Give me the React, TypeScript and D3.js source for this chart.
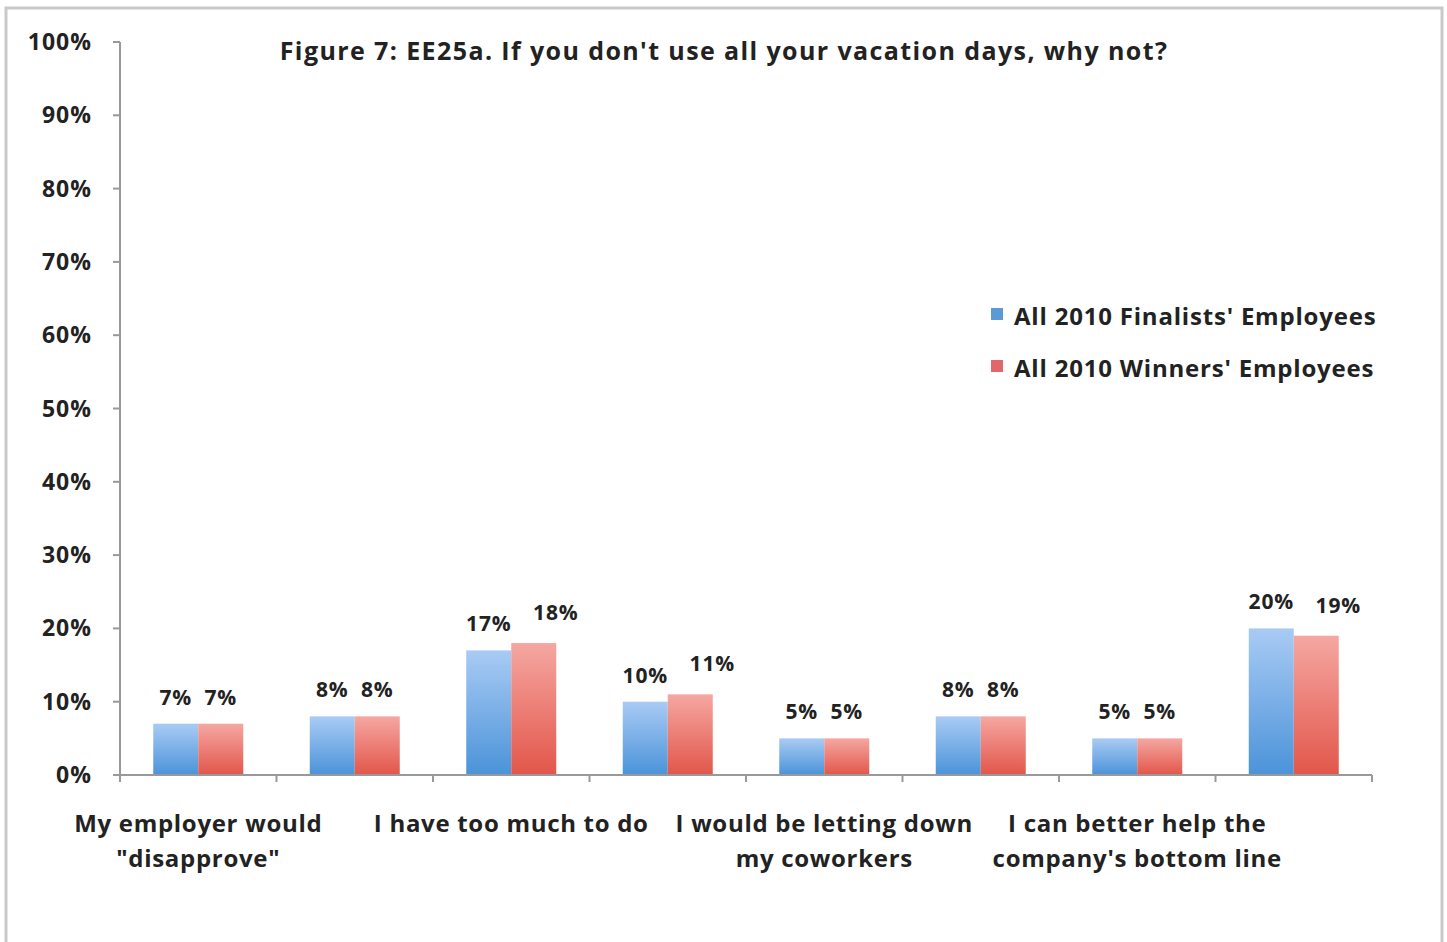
import React from "react";
import * as d3 from "d3";

const title = "Figure 7: EE25a. If you don't use all your vacation days, why not?";
const categoryLabels: string[][] = [
  ["My employer would", "\"disapprove\""],
  [],
  ["I have too much to do"],
  [],
  ["I would be letting down", "my coworkers"],
  [],
  ["I can better help the", "company's bottom line"],
  [],
];
const seriesNames = ["All 2010 Finalists' Employees", "All 2010 Winners' Employees"];
const finalists = [7, 8, 17, 10, 5, 8, 5, 20];
const winners = [7, 8, 18, 11, 5, 8, 5, 19];
const yTicks = [0, 10, 20, 30, 40, 50, 60, 70, 80, 90, 100];

const W = 1447;
const H = 942;
const FONT = "'Open Sans', Lato, sans-serif";

export default function App() {
  const x0 = 120, x1 = 1372, yTop = 42, yBot = 775;
  const idx = categoryLabels.map((_, i) => String(i));
  const x = d3.scaleBand<string>().domain(idx).range([x0, x1]).paddingInner(0).paddingOuter(0);
  const y = d3.scaleLinear().domain([0, 100]).range([yBot, yTop]);
  const barW = 45;
  const series = [
    { name: seriesNames[0], values: finalists, grad: "gBlue", sw: "#5b9bd5" },
    { name: seriesNames[1], values: winners, grad: "gRed", sw: "#e0686a" },
  ];
  const boundaries = d3.range(idx.length + 1).map((i) => x0 + i * x.bandwidth());

  return (
    <svg width={W} height={H} style={{ position: "absolute", left: 0, top: 0, background: "#fff" }} fontFamily={FONT}>
      <defs>
        <linearGradient id="gBlue" x1="0" y1="0" x2="0" y2="1">
          <stop offset="0" stopColor="#a9cbf4" />
          <stop offset="1" stopColor="#4b93d9" />
        </linearGradient>
        <linearGradient id="gRed" x1="0" y1="0" x2="0" y2="1">
          <stop offset="0" stopColor="#f5a7a2" />
          <stop offset="1" stopColor="#e2564a" />
        </linearGradient>
      </defs>
      <rect x={6} y={8} width={1436} height={940} fill="#fff" stroke="#c9c9c9" strokeWidth={3} />
      <text x={724} y={60} textAnchor="middle" fontSize={25} fontWeight="bold" fill="#222" letterSpacing={1.4}>{title}</text>

      {/* y axis */}
      <line x1={x0} x2={x0} y1={yTop} y2={yBot} stroke="#999" strokeWidth={2} />
      {yTicks.map((t) => (
        <g key={t}>
          <line x1={x0 - 7} x2={x0} y1={y(t)} y2={y(t)} stroke="#999" strokeWidth={2} />
          <text x={92} y={y(t) + 8} textAnchor="end" fontSize={23} fontWeight="bold" fill="#222" letterSpacing={1}>{t}%</text>
        </g>
      ))}

      {/* bars */}
      {series.map((s, si) =>
        s.values.map((v, i) => {
          const cx = x(String(i))! + x.bandwidth() / 2;
          const bx = cx - barW + si * barW;
          // avoid overlap of the two labels when heights differ (like the original)
          const differs = finalists[i] !== winners[i];
          const dx = si === 1 && differs ? 22 : 0;
          const dy = si === 1 && differs ? -4 : 0;
          return (
            <g key={`${si}-${i}`}>
              <rect x={bx} y={y(v)} width={barW} height={yBot - y(v)} fill={`url(#${s.grad})`} />
              <text x={bx + barW / 2 + dx} y={y(v) - 19 + dy} textAnchor="middle" fontSize={21} fontWeight="bold" fill="#222" letterSpacing={0.8}>{v}%</text>
            </g>
          );
        })
      )}

      {/* x axis */}
      <line x1={x0 - 7} x2={x1} y1={yBot} y2={yBot} stroke="#999" strokeWidth={2} />
      {boundaries.map((b, i) => (
        <line key={i} x1={b} x2={b} y1={yBot} y2={yBot + 7} stroke="#999" strokeWidth={2} />
      ))}
      {categoryLabels.map((lines, i) =>
        lines.map((ln, j) => (
          <text key={`${i}-${j}`} x={x(String(i))! + x.bandwidth() / 2} y={832 + j * 35} textAnchor="middle" fontSize={24} fontWeight="bold" fill="#222" letterSpacing={0.7}>{ln}</text>
        ))
      )}

      {/* legend */}
      {series.map((s, i) => (
        <g key={s.name}>
          <rect x={991} y={308 + i * 52} width={12} height={12} fill={s.sw} />
          <text x={1014} y={325 + i * 52} fontSize={24} fontWeight="bold" fill="#222" letterSpacing={0.8}>{s.name}</text>
        </g>
      ))}
    </svg>
  );
}
